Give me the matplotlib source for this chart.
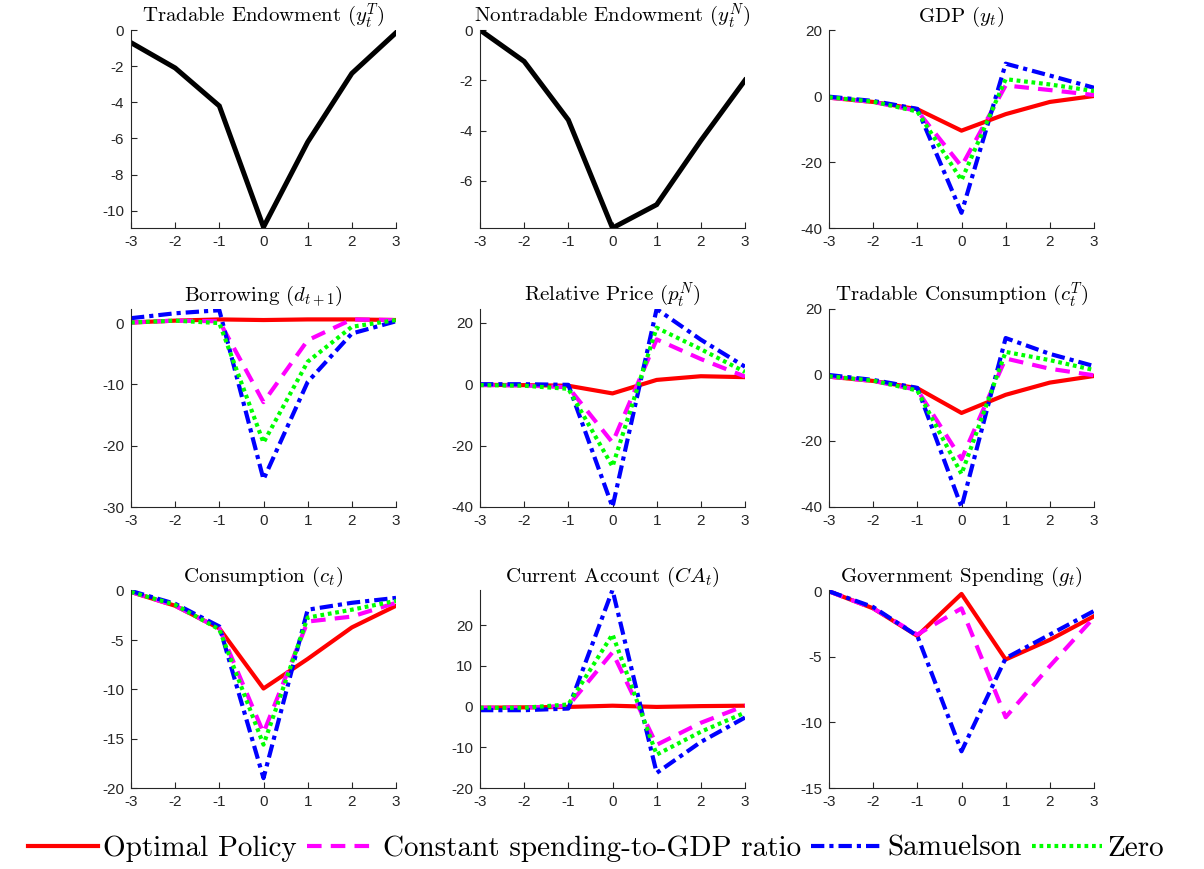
import matplotlib
matplotlib.use("Agg")
import matplotlib.pyplot as plt
import numpy as np

plt.rcParams['mathtext.fontset'] = 'cm'
plt.rcParams['axes.formatter.use_mathtext'] = False

t = [-3, -2, -1, 0, 1, 2, 3]

# endowment shocks
yT = [-0.7, -2.1, -4.2, -10.9, -6.2, -2.4, -0.15]
yN = [0.0, -1.25, -3.58, -7.88, -6.95, -4.4, -2.0]

# responses: optimal, constant g/y, samuelson, zero
gdp_opt = [-0.5, -1.8, -4.0, -10.5, -5.5, -1.8, 0.0]
gdp_con = [-0.5, -1.8, -4.5, -21.3, 3.2, 1.8, 0.3]
gdp_sam = [-0.2, -1.5, -3.9, -35.4, 9.8, 6.2, 2.5]
gdp_zer = [-0.4, -1.7, -4.7, -25.5, 5.1, 3.5, 1.5]

d_opt = [0.1, 0.4, 0.6, 0.5, 0.6, 0.6, 0.5]
d_con = [0.1, 0.4, 0.3, -12.9, -2.8, 0.6, 0.5]
d_sam = [0.8, 1.6, 2.1, -25.5, -9.6, -1.7, 0.3]
d_zer = [0.1, 0.4, 0.0, -19.5, -6.3, -0.6, 0.5]

p_opt = [-0.2, -0.3, -0.5, -3.0, 1.4, 2.6, 2.3]
p_con = [-0.3, -0.4, -1.0, -19.0, 14.6, 8.2, 2.5]
p_sam = [0.0, 0.0, -0.2, -40.0, 24.5, 14.5, 5.7]
p_zer = [-0.3, -0.5, -1.5, -26.8, 18.4, 11.4, 4.0]

cT_opt = [-0.5, -1.8, -4.0, -11.5, -6.0, -2.3, -0.3]
cT_con = [-0.5, -1.8, -4.5, -25.5, 5.0, 1.9, -0.1]
cT_sam = [0.0, -1.5, -3.9, -40.0, 11.2, 6.4, 2.7]
cT_zer = [-0.4, -1.7, -4.7, -30.0, 7.0, 4.5, 1.5]

c_opt = [-0.1, -1.5, -3.8, -9.9, -6.9, -3.7, -1.5]
c_con = [-0.1, -1.5, -3.8, -14.4, -3.1, -2.6, -1.2]
c_sam = [0.0, -1.3, -3.6, -19.0, -1.9, -1.2, -0.7]
c_zer = [-0.1, -1.4, -3.9, -15.6, -2.7, -1.9, -1.0]

ca_opt = [-0.3, -0.2, -0.1, 0.2, -0.1, 0.1, 0.2]
ca_con = [-0.3, -0.3, 0.2, 13.3, -9.4, -4.0, 0.2]
ca_sam = [-0.9, -0.9, -0.5, 28.6, -16.3, -8.7, -2.7]
ca_zer = [-0.3, -0.3, 0.5, 17.7, -11.8, -6.2, -1.5]

g_opt = [0.0, -1.3, -3.4, -0.2, -5.2, -3.7, -1.9]
g_con = [0.0, -1.3, -3.3, -1.3, -9.6, -5.7, -2.0]
g_sam = [0.0, -1.2, -3.4, -12.2, -5.1, -3.3, -1.5]

labels = ['Optimal Policy', 'Constant spending-to-GDP ratio', 'Samuelson', 'Zero']
colors = ['#ff0000', '#ff00ff', '#0000ff', '#00ff00']
styles = ['-', (0, (3.5, 2.2)), (0, (3.2, 1.2, 1.0, 1.2)), (0, (0.9, 0.9))]

panels = [
    ('Tradable Endowment ($y_t^T$)', [yT], (-10.95, 0), [-10, -8, -6, -4, -2, 0]),
    ('Nontradable Endowment ($y_t^N$)', [yN], (-7.88, 0), [-6, -4, -2, 0]),
    ('GDP ($y_t$)', [gdp_opt, gdp_con, gdp_sam, gdp_zer], (-40, 20), [-40, -20, 0, 20]),
    ('Borrowing ($d_{t+1}$)', [d_opt, d_con, d_sam, d_zer], (-30, 2.3), [-30, -20, -10, 0]),
    ('Relative Price ($p_t^N$)', [p_opt, p_con, p_sam, p_zer], (-40, 24.5), [-40, -20, 0, 20]),
    ('Tradable Consumption ($c_t^T$)', [cT_opt, cT_con, cT_sam, cT_zer], (-40, 20), [-40, -20, 0, 20]),
    ('Consumption ($c_t$)', [c_opt, c_con, c_sam, c_zer], (-20, 0.1), [-20, -15, -10, -5, 0]),
    ('Current Account ($CA_t$)', [ca_opt, ca_con, ca_sam, ca_zer], (-20, 28.6), [-20, -10, 0, 10, 20]),
    ('Government Spending ($g_t$)', [g_opt, g_con, g_sam], (-15, 0.1), [-15, -10, -5, 0]),
]

W, H = 1204, 869
fig = plt.figure(figsize=(W / 100, H / 100), dpi=100)

lefts = [131, 480, 829]
tops = [30, 309, 590]
aw, ah = 265, 198

for i, (title, series, ylim, yticks) in enumerate(panels):
    r, c = divmod(i, 3)
    ax = fig.add_axes([lefts[c] / W, 1 - (tops[r] + ah) / H, aw / W, ah / H])
    if len(series) == 1:
        ax.plot(t, series[0], color='black', lw=3.6, solid_joinstyle='miter')
    else:
        for k, s in enumerate(series):
            ax.plot(t, s, color=colors[k], ls=styles[k], lw=3.0)
    ax.set_xlim(-3, 3)
    ax.set_ylim(*ylim)
    ax.set_xticks(t)
    ax.set_yticks(yticks)
    ax.set_xticklabels([str(v) for v in t])
    ax.set_yticklabels([str(v) for v in yticks])
    for side in ['top', 'right']:
        ax.spines[side].set_visible(False)
    for side in ['left', 'bottom']:
        ax.spines[side].set_color('#262626')
        ax.spines[side].set_linewidth(0.8)
    ax.tick_params(direction='in', length=4, width=0.8, colors='#262626',
                   labelsize=11, pad=5)
    for lab in ax.get_xticklabels() + ax.get_yticklabels():
        lab.set_fontfamily('Liberation Sans')
    ax.set_title(title, fontfamily='cmr10', fontsize=15, pad=6)

handles = [plt.Line2D([], [], color=colors[k], ls=styles[k], lw=3.0) for k in range(4)]
fig.legend(handles, labels, loc='lower center', bbox_to_anchor=(0.495, -0.022),
           ncol=4, frameon=False, prop={'family': 'cmr10', 'size': 21},
           handlelength=2.4, handletextpad=0.2, columnspacing=0.35)

fig.savefig('out.png', dpi=100)
